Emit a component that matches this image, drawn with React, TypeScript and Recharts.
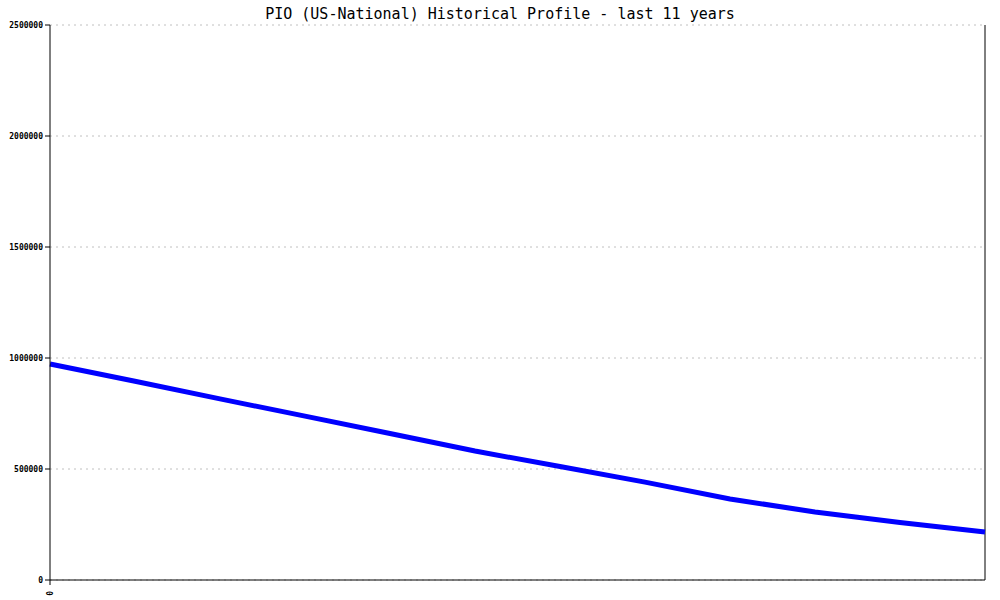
import { LineChart, Line, XAxis, YAxis, CartesianGrid, ReferenceLine } from "recharts";

// Yearly points (11 years -> 12 points)
const years = [0, 1, 2, 3, 4, 5, 6, 7, 8, 9, 10, 11];
const counts = [973000, 895000, 816000, 738000, 660000, 581000, 511000, 441000, 365000, 306000, 259000, 216000];
const yTicks = [0, 500000, 1000000, 1500000, 2000000, 2500000];
const xTicks = [0];
const title = "PIO (US-National) Historical Profile - last 11 years";

const data = years.map((y, i) => ({ year: y, count: counts[i] }));

const mono = "'DejaVu Sans Mono', 'Liberation Mono', monospace";

// rotated x tick, the original draws it sideways
function XTick({ x, y, payload }: { x?: number; y?: number; payload?: { value: number } }) {
  return (
    <text
      x={0}
      y={0}
      transform={`translate(${x! + 3},${y! + 4}) rotate(-90)`}
      textAnchor="end"
      fontSize={8}
      fontFamily={mono}
      fontWeight="bold"
      fill="#000"
    >
      {payload?.value}
    </text>
  );
}

export default function App() {
  return (
    <div style={{ position: "absolute", left: 0, top: 0, width: 1000, height: 600, background: "#fff" }}>
      <div
        style={{
          position: "absolute",
          left: 0,
          top: 5,
          width: 1000,
          textAlign: "center",
          fontFamily: mono,
          fontSize: 15,
          color: "#000",
        }}
      >
        {title}
      </div>
      <LineChart width={1000} height={600} data={data} margin={{ top: 25, right: 15, bottom: 0, left: 0 }}>
        <CartesianGrid vertical={false} stroke="#c0c0c0" strokeDasharray="2 4" />
        <XAxis
          dataKey="year"
          type="number"
          domain={[0, 11]}
          ticks={xTicks}
          height={20}
          stroke="#000"
          tickSize={5}
          tick={<XTick />}
        />
        <YAxis
          domain={[0, 2500000]}
          ticks={yTicks}
          width={50}
          stroke="#000"
          tickSize={5}
          tickMargin={2}
          tick={{ fontSize: 8, fontFamily: mono, fontWeight: "bold", fill: "#000" }}
        />
        <ReferenceLine x={11} stroke="#000" strokeWidth={1} />
        <Line
          type="linear"
          dataKey="count"
          stroke="#0000ff"
          strokeWidth={5}
          dot={false}
          isAnimationActive={false}
        />
      </LineChart>
    </div>
  );
}
